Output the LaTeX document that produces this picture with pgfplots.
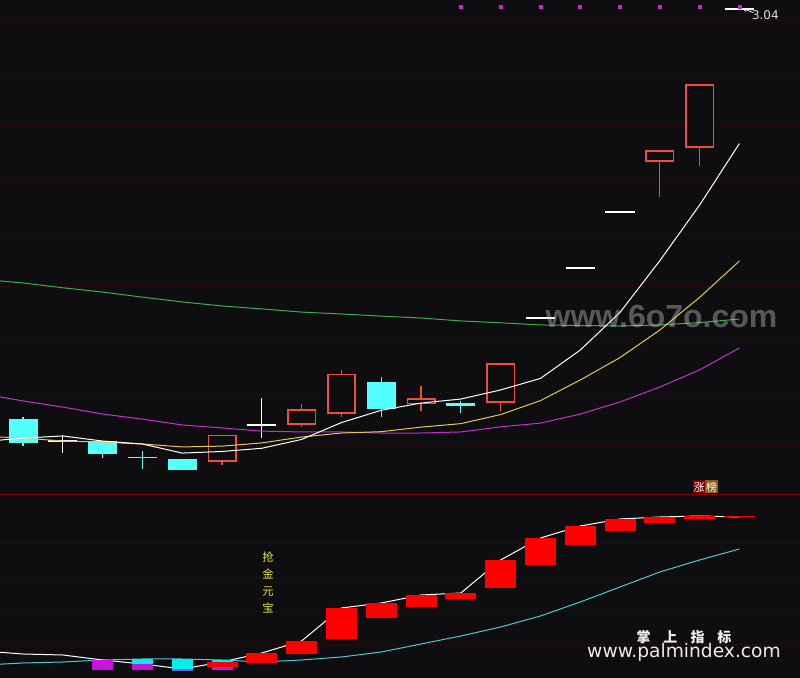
\documentclass[border=0pt]{standalone}
\usepackage{pgfplots}
\pgfplotsset{compat=1.18}
\usetikzlibrary{arrows.meta}
\usepackage{fontspec}
\setmainfont{DejaVu Sans}
\newfontfamily\cjk{Noto Sans CJK SC}
\newfontfamily\wm{Liberation Sans}

\definecolor{bg}{RGB}{14,14,17}
\definecolor{gridred}{RGB}{72,18,18}
\definecolor{sepred}{RGB}{125,0,0}
\definecolor{kcyan}{RGB}{84,255,255}
\definecolor{kred}{RGB}{240,76,66}
\definecolor{ma10}{RGB}{222,200,96}
\definecolor{ma20}{RGB}{196,48,204}
\definecolor{ma60}{RGB}{60,172,70}
\definecolor{dotmag}{RGB}{210,30,210}
\definecolor{bred}{RGB}{255,0,0}
\definecolor{bmag}{RGB}{200,20,220}
\definecolor{bcyan}{RGB}{0,238,238}
\definecolor{bpurp}{RGB}{140,90,220}
\definecolor{bline}{RGB}{80,200,210}
\definecolor{ytxt}{RGB}{232,232,64}
\definecolor{zhang}{RGB}{120,0,0}
\definecolor{bang}{RGB}{140,90,20}

% candle pieces: x = candle index
\newcommand\kwick[4]{\addplot[#1, line width=0.8pt] coordinates {(#2,#3) (#2,#4)};}
\newcommand\kbody[4]{\addplot[#1, line width=21.75pt] coordinates {(#2,#3) (#2,#4)};}
\newcommand\khollow[3]{\addplot[kred, line width=21.75pt] coordinates {(#1,#2) (#1,#3)};
  \addplot[bg, line width=19.35pt, shorten <=1.2pt, shorten >=1.2pt] coordinates {(#1,#2) (#1,#3)};}
\newcommand\kflat[4]{\addplot[#1, line width=0.9pt] coordinates {(#2,#4) (#3,#4)};}
\newcommand\rbox[4]{\addplot[#1, line width=23.25pt] coordinates {(#2,#3) (#2,#4)};}
\newcommand\smbox[4]{\addplot[#1, line width=15.75pt] coordinates {(#2,#3) (#2,#4)};}

\pgfplotsset{kpanel/.style={
  scale only axis, width=600pt,
  xmin=0.42211, xmax=20.5226,
  axis line style={draw=none},
  xtick=\empty, yticklabels={}, major tick length=0pt,
  yticklabel style={inner sep=0pt},
  ymajorgrids,
  grid style={gridred, line width=0.6pt, dash pattern=on 0.75pt off 2.25pt},
  axis background/.style={fill=bg}}}

\begin{document}
\begin{tikzpicture}
\begin{axis}[kpanel, name=top, height=370.5pt,
  ymin=1.22804, ymax=3.07477,
  ytick={1.4075,1.6056,1.8075,2.0056,2.2037,2.4019,2.6037,2.8019,3.0}]

% candlesticks
\kwick{kcyan}{1}{1.407}{1.516} \kbody{kcyan}{1}{1.419}{1.508}
\kwick{white}{2}{1.381}{1.449} \kflat{white}{1.635}{2.365}{1.426}
\kwick{kcyan}{3}{1.363}{1.426} \kbody{kcyan}{3}{1.378}{1.426}
\kwick{kcyan}{4}{1.322}{1.389} \kflat{kcyan}{3.635}{4.365}{1.363}
\kbody{kcyan}{5}{1.318}{1.359}
\kwick{kred}{6}{1.336}{1.449} \khollow{6}{1.348}{1.449}
\kwick{white}{7}{1.437}{1.587} \kflat{white}{6.635}{7.365}{1.486}
\kwick{kred}{8}{1.479}{1.564} \khollow{8}{1.486}{1.546}
\kwick{kred}{9}{1.516}{1.692} \khollow{9}{1.527}{1.677}
\kwick{kcyan}{10}{1.516}{1.665} \kbody{kcyan}{10}{1.546}{1.647}
\kwick{kred}{11}{1.538}{1.632} \khollow{11}{1.564}{1.587}
\kwick{kcyan}{12}{1.531}{1.576} \kbody{kcyan}{12}{1.557}{1.568}
\kwick{kred}{13}{1.538}{1.718} \khollow{13}{1.568}{1.718}
\kflat{white}{13.635}{14.365}{1.886}
\kflat{white}{14.635}{15.365}{2.073}
\kflat{white}{15.635}{16.365}{2.282}
\kwick{kred}{17}{2.338}{2.514} \khollow{17}{2.469}{2.514}
\kwick{kred}{18}{2.454}{2.761} \khollow{18}{2.522}{2.761}
\kflat{white}{18.635}{19.365}{3.041}

% moving averages
\addplot[ma60, line width=0.75pt] coordinates {
 (0,2.030) (1,2.017) (2,1.999) (3,1.983) (4,1.964) (5,1.946) (6,1.931)
 (7,1.920) (8,1.908) (9,1.901) (10,1.893) (11,1.886) (12,1.875) (13,1.868)
 (14,1.860) (15,1.858) (16,1.856) (17,1.860) (18,1.869) (19,1.882)};
\addplot[ma20, line width=0.75pt] coordinates {
 (0,1.602) (1,1.576) (2,1.553) (3,1.527) (4,1.508) (5,1.486) (6,1.475)
 (7,1.463) (8,1.460) (9,1.460) (10,1.456) (11,1.456) (12,1.460) (13,1.479)
 (14,1.493) (15,1.527) (16,1.572) (17,1.628) (18,1.692) (19,1.774)};
\addplot[ma10, line width=0.75pt] coordinates {
 (0,1.444) (1,1.437) (2,1.426) (3,1.422) (4,1.415) (5,1.404) (6,1.407)
 (7,1.419) (8,1.441) (9,1.456) (10,1.461) (11,1.478) (12,1.491) (13,1.525)
 (14,1.577) (15,1.654) (16,1.738) (17,1.841) (18,1.963) (19,2.099)};
\addplot[white, line width=0.75pt] coordinates {
 (0,1.424) (1,1.437) (2,1.445) (3,1.426) (4,1.415) (5,1.381) (6,1.387)
 (7,1.399) (8,1.432) (9,1.495) (10,1.541) (11,1.568) (12,1.583) (13,1.617)
 (14,1.660) (15,1.766) (16,1.907) (17,2.100) (18,2.308) (19,2.538)};

% signal dots along the top
\addplot[only marks, mark=square*, mark size=1.1pt, dotmag, mark options={draw=dotmag, fill=dotmag}]
 coordinates {(12,3.049) (13,3.049) (14,3.049) (15,3.049) (16,3.049) (17,3.049) (18,3.049) (19,3.049)};

% highest price marker
\addplot[white, line width=0.6pt, -{Stealth[length=3.5pt,width=3pt]}] coordinates {(19.342,3.028) (19.07,3.044)};
\node[anchor=west, inner sep=0pt, text={rgb,255:red,220;green,220;blue,220}, font=\fontsize{9}{10}\selectfont]
 at (axis cs:19.31,3.019) {3.04};

% watermark
\node[anchor=base, inner sep=0pt, text={rgb,255:red,200;green,200;blue,200}, text opacity=0.4,
 font=\wm\bfseries\fontsize{24}{26}\selectfont] at (axis cs:17.043,1.8523) {www.6o7o.com};

% tag
\node[inner sep=0pt, minimum width=9pt, minimum height=9.75pt, fill=zhang, text=white,
 font=\cjk\fontsize{8.25}{9}\selectfont] at (axis cs:17.985,1.2542) {涨};
\node[inner sep=0pt, minimum width=9.5pt, minimum height=9.75pt, fill=bang, text=white,
 font=\cjk\fontsize{8.25}{9}\selectfont] at (axis cs:18.30,1.2542) {榜};
\end{axis}

\begin{axis}[kpanel, name=bot, at={(top.south west)}, anchor=north west, height=138pt,
  ymin=0, ymax=184, ytick={34,67,101,135},
  extra y ticks={183.5}, extra y tick labels={},
  extra y tick style={grid style={sepred, solid, line width=0.8pt}}]

\addplot[bline, line width=0.75pt] coordinates {
 (0,13) (1,15) (2,16) (3,18) (4,19) (5,19) (6,18) (7,16) (8,18) (9,21)
 (10,26) (11,34) (12,42) (13,51) (14,62) (15,76) (16,91) (17,106) (18,118) (19,129)};
\addplot[white, line width=0.75pt] coordinates {
 (0,27) (1,24) (2,23) (3,18) (4,14) (5,9) (6,16) (7,25) (8,37) (9,70)
 (10,75) (11,83) (12,85) (13,118) (14,140) (15,152) (16,159) (17,161) (18,162) (19,161)};

% small boxes
\smbox{bmag}{3}{8}{18}
\smbox{bmag}{4}{8}{14} \smbox{bcyan}{4}{14}{19}
\smbox{bpurp}{5}{7}{9} \smbox{bcyan}{5}{9}{19}
\smbox{bmag}{6}{8}{11} \smbox{bcyan}{6}{16}{18}
% red boxes
\rbox{bred}{6}{11}{16}
\rbox{bred}{7}{15}{25}
\rbox{bred}{8}{24}{37}
\rbox{bred}{9}{39}{70}
\rbox{bred}{10}{60}{75}
\rbox{bred}{11}{71}{83}
\rbox{bred}{12}{79}{85}
\rbox{bred}{13}{90}{118}
\rbox{bred}{14}{113}{140}
\rbox{bred}{15}{133}{152}
\rbox{bred}{16}{147}{159}
\rbox{bred}{17}{155}{161}
\rbox{bred}{18}{159}{162}
\rbox{bred}{19}{160.5}{161.5}

\node[align=center, text=ytxt, inner sep=0pt, font=\cjk\fontsize{8.5}{12.75}\selectfont]
 at (axis cs:7.156,95.5) {抢\\金\\元\\宝};
\node[text={rgb,255:red,240;green,240;blue,240}, inner sep=0pt, font=\cjk\bfseries\fontsize{10.5}{12}\selectfont]
 at (axis cs:17.608,41) {掌\hspace{9.75pt}上\hspace{9.75pt}指\hspace{9.75pt}标};
\node[anchor=base, inner sep=0pt, text={rgb,255:red,235;green,235;blue,235}, font=\fontsize{14}{16}\selectfont]
 at (axis cs:17.608,20) {www.palmindex.com};
\end{axis}
\pgfresetboundingbox
\path (top.north west) rectangle (bot.south east);
\end{tikzpicture}
\end{document}
